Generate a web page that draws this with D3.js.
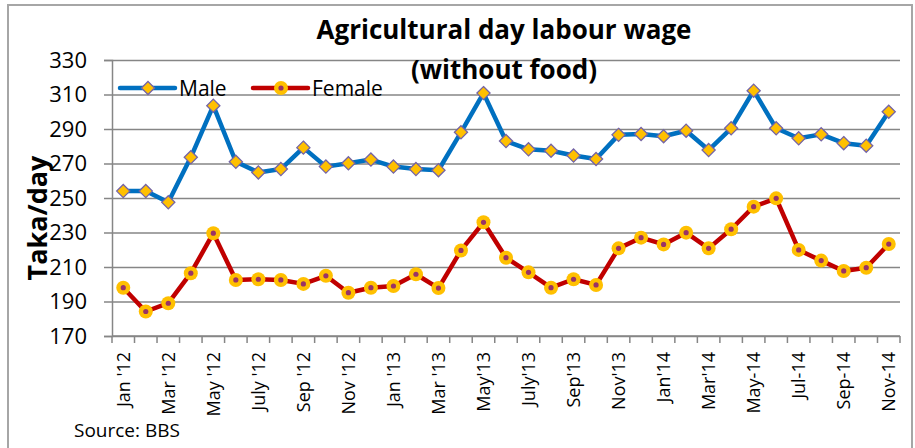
<!DOCTYPE html>
<html>
<head>
<meta charset="utf-8">
<script src="https://cdn.jsdelivr.net/npm/d3@7"></script>
<style>
  body { margin: 0; background: #fff; }
  svg { display: block; font-family: "Open Sans", Lato, sans-serif; }
</style>
</head>
<body>
<svg id="chart"></svg>
<script>
const width = 915, height = 448;
const margin = { top: 60, right: 15, bottom: 112, left: 112 };

// months Jan '12 .. Nov '14, every other one gets a label on the axis
const months = [
  "Jan '12", "Feb '12", "Mar '12", "Apr '12", "May '12", "Jun '12", "July '12", "Aug '12",
  "Sep '12", "Oct '12", "Nov '12", "Dec '12", "Jan '13", "Feb '13", "Mar '13", "Apr'13",
  "May'13", "Jun'13", "July'13", "Aug'13", "Sep'13", "Oct'13", "Nov'13", "Dec'13",
  "Jan'14", "Feb'14", "Mar'14", "Apr-14", "May-14", "Jun-14", "Jul-14", "Aug-14",
  "Sep-14", "Oct-14", "Nov-14"
];
const male = [
  254, 254, 247.5, 273.6, 303.5, 271, 264.8, 266.8, 279.2, 268.2, 270.1, 272.3,
  268.2, 266.8, 266.1, 288.1, 310.8, 283, 278.2, 277.4, 274.6, 272.6, 286.6, 287.1,
  285.8, 289, 277.8, 290.4, 312.2, 290.4, 284.6, 286.9, 281.8, 280.3, 300
];
const female = [
  198, 184.2, 189, 206.4, 229.6, 202.5, 202.9, 202.5, 200.2, 204.9, 195.1, 198,
  199, 205.8, 197.8, 219.6, 235.9, 215.4, 206.9, 198, 202.9, 199.6, 220.8, 227,
  223.1, 229.9, 220.8, 231.9, 245, 249.8, 219.9, 213.7, 207.7, 209.6, 223.3
];
const yTicks = [170, 190, 210, 230, 250, 270, 290, 310, 330];

const svg = d3.select("#chart").attr("width", width).attr("height", height);

// outer frame
svg.append("rect")
  .attr("x", 8).attr("y", 5)
  .attr("width", 904).attr("height", 460)
  .attr("fill", "none").attr("stroke", "#a6a6a6").attr("stroke-width", 2);

const x = d3.scaleBand()
  .domain(months)
  .range([margin.left, width - margin.right])
  .padding(0);

const y = d3.scaleLinear()
  .domain([170, 330])
  .range([height - margin.bottom, margin.top]);

const cx = d => x(d) + x.bandwidth() / 2;

// gridlines + y axis
svg.append("g")
  .attr("transform", `translate(${margin.left},0)`)
  .call(d3.axisLeft(y).tickValues(yTicks).tickSize(8).tickPadding(17).tickFormat(d3.format("d")))
  .call(g => g.select(".domain").attr("stroke", "#868686").attr("stroke-width", 1.5))
  .call(g => g.selectAll(".tick line").attr("stroke", "#868686").attr("stroke-width", 1.5))
  .call(g => g.selectAll(".tick line").clone()
    .attr("x1", 0)
    .attr("x2", width - margin.right - margin.left))
  .call(g => g.selectAll(".tick text")
    .attr("fill", "#000").attr("font-size", 22).attr("font-family", "'Open Sans', sans-serif"));

// x axis: ticks on category boundaries
const xAxis = svg.append("g")
  .attr("transform", `translate(0,${height - margin.bottom})`);
xAxis.append("line")
  .attr("x1", margin.left).attr("x2", width - margin.right)
  .attr("stroke", "#868686").attr("stroke-width", 1.5);
xAxis.selectAll(".bound")
  .data(d3.range(months.length + 1))
  .join("line")
  .attr("class", "bound")
  .attr("x1", i => margin.left + i * x.bandwidth())
  .attr("x2", i => margin.left + i * x.bandwidth())
  .attr("y1", 0).attr("y2", 7)
  .attr("stroke", "#868686").attr("stroke-width", 1.5);
xAxis.selectAll(".lbl")
  .data(months.filter((m, i) => i % 2 === 0))
  .join("text")
  .attr("class", "lbl")
  .attr("transform", d => `translate(${cx(d) + 6.5},16) rotate(-90)`)
  .attr("text-anchor", "end")
  .attr("font-size", 18)
  .text(d => d);

// lines
const line = vals => d3.line()
  .x((v, i) => cx(months[i]))
  .y(v => y(v))(vals);

svg.append("path")
  .attr("d", line(female))
  .attr("fill", "none").attr("stroke", "#c00000").attr("stroke-width", 4.5)
  .attr("stroke-linejoin", "round");

svg.append("path")
  .attr("d", line(male))
  .attr("fill", "none").attr("stroke", "#0070c0").attr("stroke-width", 4.5)
  .attr("stroke-linejoin", "round");

const diamond = d3.symbol().type(d3.symbolDiamond2).size(110);

const drawCircle = (g) => {
  g.append("circle").attr("r", 7).attr("fill", "#ffc000");
  g.append("circle").attr("r", 2.6).attr("fill", "#993366");
};
const drawDiamond = (g) => {
  g.append("path").attr("d", diamond)
    .attr("fill", "#ffc000").attr("stroke", "#7464a6").attr("stroke-width", 1.3);
};

svg.append("g").selectAll("g")
  .data(female)
  .join("g")
  .attr("transform", (v, i) => `translate(${cx(months[i])},${y(v)})`)
  .call(drawCircle);

svg.append("g").selectAll("g")
  .data(male)
  .join("g")
  .attr("transform", (v, i) => `translate(${cx(months[i])},${y(v)})`)
  .call(drawDiamond);

// legend
const legend = [
  { name: "Male", color: "#0070c0", x: 120, draw: drawDiamond },
  { name: "Female", color: "#c00000", x: 253, draw: drawCircle }
];
const lg = svg.append("g").selectAll("g")
  .data(legend)
  .join("g")
  .attr("transform", d => `translate(${d.x},88)`);
lg.append("line")
  .attr("x1", 0).attr("x2", 55)
  .attr("stroke", d => d.color).attr("stroke-width", 4.5).attr("stroke-linecap", "round");
lg.each(function (d) {
  d3.select(this).append("g").attr("transform", "translate(28,0)").call(d.draw);
});
lg.append("text")
  .attr("x", 59).attr("y", 7.5)
  .attr("font-size", 21)
  .text(d => d.name);

// title
svg.append("text")
  .attr("x", 504).attr("y", 39)
  .attr("text-anchor", "middle")
  .attr("font-size", 26).attr("font-weight", "bold")
  .text("Agricultural day labour wage");
svg.append("text")
  .attr("x", 504).attr("y", 79)
  .attr("text-anchor", "middle")
  .attr("font-size", 26).attr("font-weight", "bold")
  .text("(without food)");

// y axis title
svg.append("text")
  .attr("transform", "translate(47,218) rotate(-90)")
  .attr("text-anchor", "middle")
  .attr("font-size", 27).attr("font-weight", "bold")
  .text("Taka/day");

// source
svg.append("text")
  .attr("x", 74).attr("y", 437)
  .attr("font-size", 19)
  .text("Source: BBS");
</script>
</body>
</html>
